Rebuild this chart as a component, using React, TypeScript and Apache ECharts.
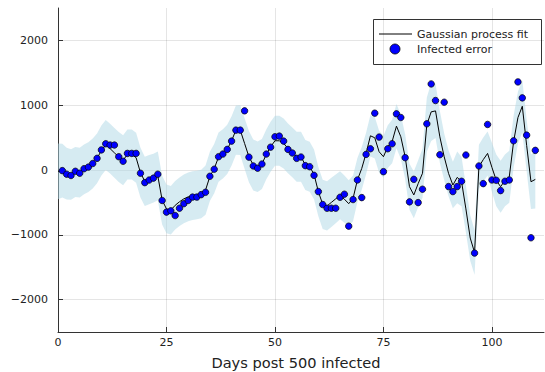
import React, { useEffect, useRef } from "react";
import * as echarts from "echarts";

// Gaussian process posterior mean, one value per day (day 0 .. 110)
const gpMean = [
  -20, -10, -55, -70, -30, -40, 10, 45, 100, 180,
  300, 385, 330, 265, 200, 150, 240, 240, 190, -40,
  -175, -150, -125, -90, -465, -600, -620, -545, -490, -445,
  -415, -395, -385, -370, -310, -100, 20, 200, 250, 320,
  450, 615, 615, 410, 205, 77, 51, 92, 241, 359,
  451, 451, 410, 333, 272, 205, 205, 77, 51, -67,
  -334, -529, -554, -500, -445, -390, -450, -520, -436, -154,
  25, 256, 528, 497, 282, 205, 359, 440, 677, 513,
  205, -257, -385, -210, -50, 700, 897, 912, 512, 204,
  -52, -232, -114, -180, -600, -1050, -1273, 50, 160, 256,
  40, -160, -258, -160, -104, 440, 810, 984, 380, -181,
  -145,
];

// Half-width of the confidence ribbon around the mean, per day (day 0 .. 110)
const gpHalfWidth = [
  430, 415, 400, 390, 385, 385, 385, 385, 385, 385,
  385, 385, 385, 385, 385, 385, 385, 385, 385, 385,
  380, 380, 375, 375, 375, 375, 375, 375, 375, 375,
  375, 375, 375, 375, 380, 380, 380, 380, 380, 380,
  380, 380, 385, 390, 395, 395, 390, 385, 385, 385,
  385, 385, 385, 385, 385, 385, 385, 385, 385, 385,
  380, 380, 380, 380, 375, 370, 365, 360, 350, 340,
  330, 320, 320, 320, 325, 325, 330, 335, 340, 340,
  345, 355, 360, 360, 380, 420, 450, 420, 400, 360,
  355, 360, 400, 380, 360, 350, 345, 340, 340, 340,
  380, 400, 400, 400, 400, 400, 400, 400, 400, 420,
  450,
];

// Observed infected error, days 1 .. 110 (no observation on day 95)
const infectedError: (number | null)[] = [
  -10, -65, -85, -20, -50, 20, 45, 100, 180, 310,
  405, 385, 385, 205, 135, 256, 256, 256, -50, -195,
  -155, -125, -65, -470, -650, -630, -703, -590, -520, -470,
  -418, -418, -380, -344, -97, 12, 205, 246, 318, 446,
  615, 615, 913, 198, 62, 28, 92, 246, 352, 513,
  523, 446, 318, 262, 180, 200, 67, 51, -82, -333,
  -533, -590, -590, -590, -421, -374, -867, -456, -154, -426,
  241, 328, 877, 508, -26, 328, 405, 867, 810, 190,
  -492, -144, -503, -297, 713, 1328, 1072, 236, 1046, -256,
  -333, -256, -174, 231, null, -1282, 62, -210, 703, -154,
  -159, -318, -174, -154, 451, 1359, 1113, 538, -1046, 303,
];
const firstObservedDay = 1;

const xTicks = [0, 25, 50, 75, 100];
const yTicks = [-2000, -1000, 0, 1000, 2000];

const FONT = "DejaVu Sans";

export default function App() {
  const ref = useRef<HTMLDivElement>(null);

  useEffect(() => {
    document.body.style.margin = "0";
    if (!ref.current) return;
    const chart = echarts.init(ref.current, undefined, { renderer: "svg" });

    // ribbon rows: [day, lower, upper]
    const ribbonRows = gpMean.map((m, d) => [d, m - gpHalfWidth[d], m + gpHalfWidth[d]]);
    const meanPts = gpMean.map((m, d) => [d, m]);
    const obsPts = infectedError
      .map((v, i) => (v === null ? null : [i + firstObservedDay, v]))
      .filter((p) => p !== null) as number[][];

    const fmtY = (v: number) => (v < 0 ? "\u2212" + Math.abs(v) : String(v));

    chart.setOption({
      animation: false,
      textStyle: { fontFamily: FONT },
      grid: { left: 58, right: 1, top: 8, bottom: 40, containLabel: false },
      xAxis: {
        type: "value",
        min: 0,
        max: 112,
        interval: 25,
        axisLine: { show: true, onZero: false, lineStyle: { color: "#333", width: 1 } },
        axisTick: { show: true, inside: true, length: 5, lineStyle: { color: "#333" }, customValues: xTicks },
        axisLabel: { color: "#222", fontSize: 11, fontFamily: FONT, margin: 5, customValues: xTicks },
        splitLine: { show: true, lineStyle: { color: "rgba(0,0,0,0.1)", width: 1 } },
      },
      yAxis: {
        type: "value",
        min: -2500,
        max: 2500,
        axisLine: { show: true, onZero: false, lineStyle: { color: "#333", width: 1 } },
        axisTick: { show: true, inside: true, length: 5, lineStyle: { color: "#333" }, customValues: yTicks },
        axisLabel: {
          color: "#222",
          fontSize: 11,
          fontFamily: FONT,
          margin: 10,
          customValues: yTicks,
          formatter: fmtY,
        },
        splitLine: { show: true, lineStyle: { color: "rgba(0,0,0,0.1)", width: 1 } },
      },
      series: [
        {
          name: "ribbon",
          type: "custom",
          data: ribbonRows,
          encode: { x: 0, y: [1, 2] },
          silent: true,
          z: 1,
          renderItem: (params: any, api: any) => {
            // the whole ribbon is one polygon, drawn with the first row
            if (params.dataIndex !== 0) return null;
            const upper = ribbonRows.map((r) => api.coord([r[0], r[2]]));
            const lower = ribbonRows.map((r) => api.coord([r[0], r[1]])).reverse();
            return {
              type: "polygon",
              shape: { points: upper.concat(lower) },
              style: { fill: "rgba(173,216,230,0.5)", stroke: "none" },
            };
          },
        },
        {
          name: "Gaussian process fit",
          type: "line",
          data: meanPts,
          symbol: "none",
          lineStyle: { color: "#000", width: 1 },
          z: 2,
        },
        {
          name: "Infected error",
          type: "scatter",
          data: obsPts,
          symbolSize: 6.5,
          itemStyle: { color: "#0000ff", borderColor: "#000", borderWidth: 0.7, opacity: 1 },
          z: 3,
        },
      ],
      graphic: [
        {
          type: "group",
          z: 100,
          children: [
            {
              type: "rect",
              shape: { x: 373.5, y: 19.5, width: 168, height: 45 },
              style: { fill: "#fff", stroke: "#333", lineWidth: 1 },
            },
            {
              type: "line",
              shape: { x1: 379, y1: 34, x2: 412, y2: 34 },
              style: { stroke: "#000", lineWidth: 1 },
            },
            {
              type: "text",
              x: 417,
              y: 34,
              style: {
                text: "Gaussian process fit",
                font: `11px "${FONT}"`,
                fill: "#222",
                textVerticalAlign: "middle",
                verticalAlign: "middle",
              },
            },
            {
              type: "circle",
              shape: { cx: 395, cy: 49, r: 5 },
              style: { fill: "#0000ff", stroke: "#000", lineWidth: 0.8 },
            },
            {
              type: "text",
              x: 417,
              y: 49.5,
              style: {
                text: "Infected error",
                font: `11px "${FONT}"`,
                fill: "#222",
                textVerticalAlign: "middle",
                verticalAlign: "middle",
              },
            },
          ],
        },
        {
          type: "text",
          x: 296,
          y: 362,
          style: {
            text: "Days post 500 infected",
            font: `14.6px "${FONT}"`,
            fill: "#222",
            align: "center",
            textAlign: "center",
            verticalAlign: "middle",
            textVerticalAlign: "middle",
          },
        },
      ],
    });

    return () => chart.dispose();
  }, []);

  return <div ref={ref} style={{ width: 545, height: 372 }} />;
}
